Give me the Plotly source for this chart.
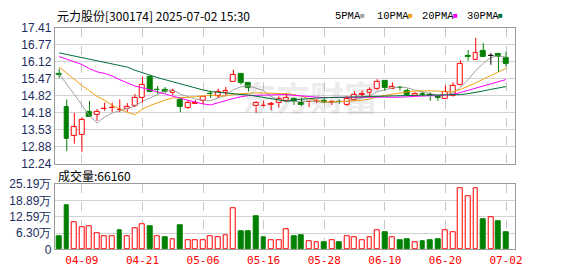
import plotly.graph_objects as go

# ---------------- data ----------------
dates = ["04-03", "04-07", "04-08", "04-09", "04-10", "04-11", "04-14", "04-15", "04-16", "04-17",
         "04-18", "04-21", "04-22", "04-23", "04-24", "04-25", "04-28", "04-29", "04-30", "05-06",
         "05-07", "05-08", "05-09", "05-12", "05-13", "05-14", "05-15", "05-16", "05-19", "05-20",
         "05-21", "05-22", "05-23", "05-26", "05-27", "05-28", "05-29", "05-30", "06-03", "06-04",
         "06-05", "06-06", "06-09", "06-10", "06-11", "06-12", "06-13", "06-16", "06-17", "06-18",
         "06-19", "06-20", "06-23", "06-24", "06-25", "06-26", "06-27", "06-30", "07-01", "07-02"]

opens = [15.67, 14.42, 13.32, 13.36, 14.20, 14.11, 14.32, 14.36, 14.28, 14.32,
         14.45, 14.74, 15.53, 15.07, 15.07, 14.93, 14.69, 14.38, 14.52, 14.64,
         14.92, 14.84, 14.95, 15.34, 15.68, 15.32, 14.43, 14.44, 14.50, 14.55,
         14.62, 14.72, 14.55, 14.58, 14.61, 14.64, 14.58, 14.60, 14.48, 14.69,
         14.88, 14.93, 15.08, 15.41, 15.10, 15.14, 15.00, 14.84, 14.90, 14.88,
         14.77, 14.72, 14.81, 15.25, 16.33, 16.21, 16.54, 16.33, 16.42, 16.26]
highs = [15.86, 14.69, 14.18, 14.01, 14.63, 14.33, 14.57, 14.57, 14.69, 14.55,
         14.90, 15.56, 15.61, 15.20, 15.16, 15.10, 14.74, 14.64, 14.66, 14.78,
         15.03, 15.10, 15.17, 15.82, 15.68, 15.33, 14.62, 14.64, 14.60, 14.81,
         14.91, 14.76, 14.76, 14.62, 14.69, 14.74, 14.64, 14.69, 14.81, 15.00,
         15.03, 15.15, 15.46, 15.42, 15.34, 15.20, 15.10, 14.96, 14.98, 14.96,
         14.86, 15.22, 15.34, 16.18, 16.57, 17.03, 16.83, 16.45, 16.43, 16.50]
lows = [15.50, 12.73, 13.01, 12.70, 14.03, 13.87, 14.26, 14.21, 14.21, 14.23,
        14.40, 14.57, 14.96, 14.91, 14.93, 14.86, 14.21, 14.33, 14.52, 14.52,
        14.74, 14.74, 14.86, 15.34, 15.25, 14.99, 14.19, 14.42, 14.28, 14.38,
        14.60, 14.48, 14.43, 14.40, 14.55, 14.55, 14.48, 14.52, 14.43, 14.64,
        14.81, 14.79, 15.03, 15.03, 15.08, 15.03, 14.81, 14.81, 14.81, 14.64,
        14.64, 14.71, 14.79, 15.22, 16.16, 16.20, 16.32, 16.01, 15.75, 15.94]
closes = [15.63, 13.18, 13.63, 13.90, 14.03, 14.23, 14.34, 14.38, 14.30, 14.40,
          14.76, 15.25, 14.99, 15.04, 14.98, 15.03, 14.40, 14.55, 14.57, 14.78,
          14.90, 14.98, 15.00, 15.64, 15.32, 15.13, 14.55, 14.46, 14.53, 14.72,
          14.76, 14.60, 14.47, 14.60, 14.63, 14.57, 14.60, 14.58, 14.72, 14.88,
          14.91, 15.05, 15.37, 15.13, 15.17, 15.12, 14.86, 14.91, 14.88, 14.81,
          14.76, 14.96, 15.20, 16.03, 16.31, 16.45, 16.32, 16.33, 16.31, 16.06]
close_before_first = 15.70

# volume in 万手
volumes = [5.02, 17.0, 10.4, 8.57, 8.94, 6.24, 5.26, 5.26, 7.47, 4.90,
           8.20, 9.91, 8.94, 4.90, 4.53, 3.79, 9.30, 3.40, 3.40, 3.67,
           5.26, 4.53, 5.51, 15.79, 6.98, 6.98, 12.97, 4.53, 3.67, 3.67,
           7.71, 5.26, 5.63, 3.30, 2.57, 2.57, 3.67, 2.57, 5.26, 4.53,
           3.67, 4.53, 7.34, 6.73, 4.53, 3.43, 3.79, 2.57, 3.06, 3.43,
           3.79, 7.34, 6.61, 23.50, 20.56, 23.50, 11.50, 12.48, 10.77, 6.616]

# moving-average values before enough in-window closes exist
ma5_head = [15.66, 15.28, 14.88, 14.47]
ma10_head = [15.92, 15.68, 15.46, 15.22, 15.02, 14.81, 14.66, 14.47, 14.33]
ma20_head = [16.32, 16.22, 16.14, 16.02, 15.86, 15.74, 15.68, 15.58, 15.44, 15.32,
             15.20, 15.13, 15.05, 14.98, 14.90, 14.80, 14.73, 14.66, 14.59]
ma30_head = [16.46, 16.40, 16.34, 16.28, 16.23, 16.18, 16.12, 16.06, 15.99, 15.92,
             15.80, 15.70, 15.61, 15.52, 15.44, 15.36, 15.28, 15.20, 15.12, 15.05,
             14.99, 14.96, 14.92, 14.90, 14.88, 14.86, 14.81, 14.76, 14.72]

price_tick_labels = ["12.24", "12.88", "13.53", "14.18", "14.82", "15.47", "16.12", "16.77", "17.41"]
vol_tick_labels = ["0", "6.30万", "12.59万", "18.89万", "25.19万"]
stock_title = "元力股份[300174] 2025-07-02 15:30"
ma_names = ["5PMA", "10PMA", "20PMA", "30PMA"]

# ---------------- styling ----------------
W, H = 578, 276
RED, GREEN, BLACK = "#ff0000", "#008000", "#000000"
MA_COLORS = ["#a0a0a0", "#f0a010", "#ff00ff", "#00703a"]
GRID = "#d2d2d2"
BORDER = "#9a9a9a"
AXIS_TXT = "#1c2c60"
F_CJK = "Noto Sans CJK SC"
F_NUM = "Liberation Sans"
F_MONO = "DejaVu Sans Mono"

n = len(dates)
xs = list(range(n))


def px_x(p):
    return p / W


def px_y(p):
    return 1 - p / H


def moving_avg(period, head):
    out = list(head)
    for i in range(period - 1, n):
        out.append(sum(closes[i - period + 1:i + 1]) / period)
    return out


mas = [moving_avg(5, ma5_head), moving_avg(10, ma10_head),
       moving_avg(20, ma20_head), moving_avg(30, ma30_head)]

fig = go.Figure()

# MA lines
for vals, col, name in zip(mas, MA_COLORS, ma_names):
    fig.add_trace(go.Scatter(x=xs, y=vals, mode="lines", line=dict(color=col, width=1),
                             name=name, xaxis="x", yaxis="y", hoverinfo="skip"))

# candles
groups = {
    "up": dict(line=RED, fill="#ffffff"),
    "down": dict(line=GREEN, fill=GREEN),
    "flat": dict(line=BLACK, fill=BLACK),
}
BODY_W = 0.64
MIN_BODY = 0.012
for key, st in groups.items():
    idx = [i for i in xs if (closes[i] > opens[i] and key == "up") or
           (closes[i] < opens[i] and key == "down") or
           (closes[i] == opens[i] and key == "flat")]
    if not idx:
        continue
    base = [min(opens[i], closes[i]) for i in idx]
    hgt = [max(abs(closes[i] - opens[i]), MIN_BODY) for i in idx]
    fig.add_trace(go.Bar(x=idx, y=hgt, base=base, width=BODY_W,
                         marker=dict(color=st["fill"], line=dict(color=st["line"], width=1)),
                         xaxis="x", yaxis="y", hoverinfo="skip", showlegend=False))
    wx, wy = [], []
    for i in idx:
        top = max(opens[i], closes[i])
        bot = min(opens[i], closes[i])
        if highs[i] > top:
            wx += [i, i, None]
            wy += [highs[i], top, None]
        if lows[i] < bot:
            wx += [i, i, None]
            wy += [bot, lows[i], None]
    fig.add_trace(go.Scatter(x=wx, y=wy, mode="lines", line=dict(color=st["line"], width=1),
                             xaxis="x", yaxis="y", hoverinfo="skip", showlegend=False))

# volume bars (colour by close vs previous close)
prev = [close_before_first] + closes[:-1]
vol_up = [i for i in xs if closes[i] >= prev[i]]
vol_dn = [i for i in xs if closes[i] < prev[i]]
fig.add_trace(go.Bar(x=vol_up, y=[volumes[i] for i in vol_up], width=BODY_W,
                     marker=dict(color="#ffffff", line=dict(color=RED, width=1)),
                     xaxis="x2", yaxis="y2", hoverinfo="skip", showlegend=False))
fig.add_trace(go.Bar(x=vol_dn, y=[volumes[i] for i in vol_dn], width=BODY_W,
                     marker=dict(color=GREEN, line=dict(color=GREEN, width=1)),
                     xaxis="x2", yaxis="y2", hoverinfo="skip", showlegend=False))

# axes
x_left, x_right = 55.5, 522.0
slot = 7.68
first_px = 60.0
x_range = [(x_left - first_px) / slot, (x_right - first_px) / slot]
label_idx = list(range(3, n, 8))

p_lo, p_hi = float(price_tick_labels[0]), float(price_tick_labels[-1])
p_ticks = [p_lo + k * (p_hi - p_lo) / (len(price_tick_labels) - 1) for k in range(len(price_tick_labels))]
v_hi = 25.19
v_ticks = [k * v_hi / (len(vol_tick_labels) - 1) for k in range(len(vol_tick_labels))]

common_x = dict(range=x_range, showgrid=True, gridcolor="#c8c8c8", griddash="dash", gridwidth=1,
                tickmode="array", tickvals=label_idx, zeroline=False,
                showline=True, mirror=True, linecolor=BORDER, linewidth=1, ticks="")

fig.update_layout(
    width=W, height=H, autosize=False,
    margin=dict(l=0, r=0, t=0, b=0),
    paper_bgcolor="#ffffff", plot_bgcolor="#ffffff",
    showlegend=False, barmode="overlay", bargap=0,
    xaxis=dict(domain=[px_x(x_left), px_x(x_right)], anchor="y", showticklabels=False, **common_x),
    xaxis2=dict(domain=[px_x(x_left), px_x(x_right)], anchor="y2", matches="x",
                ticktext=[dates[i] for i in label_idx], showticklabels=True,
                tickfont=dict(family=F_MONO, size=11, color=RED), **common_x),
    yaxis=dict(domain=[px_y(165.3), px_y(22)], range=[p_lo, p_hi], tickmode="array",
               tickvals=p_ticks, ticktext=price_tick_labels, showgrid=True, gridcolor=GRID,
               zeroline=False, showline=True, mirror=True, linecolor=BORDER, linewidth=1,
               tickfont=dict(family=F_NUM, size=12, color=AXIS_TXT), ticks="", anchor="x"),
    yaxis2=dict(domain=[px_y(255.3), px_y(186.7)], range=[0, v_hi], tickmode="array",
                tickvals=v_ticks, ticktext=vol_tick_labels, showgrid=True, gridcolor=GRID,
                zeroline=False, showline=True, mirror=True, linecolor=BORDER, linewidth=1,
                tickfont=dict(family=F_NUM, size=12, color=AXIS_TXT), ticks="", anchor="x2"),
)

ann = []
# watermark
ann.append(dict(text="<b>东方财富</b>", x=px_x(314), y=px_y(94), xref="paper", yref="paper",
                showarrow=False, font=dict(family=F_CJK, size=34, color="rgba(110,110,110,0.15)"),
                xanchor="center", yanchor="middle"))
# title
ann.append(dict(text=stock_title, x=px_x(56), y=px_y(9), xref="paper", yref="paper",
                showarrow=False, font=dict(family=F_CJK, size=12, color="#000000"),
                xanchor="left", yanchor="middle"))
# MA legend
leg_x = [338, 380, 426, 472]
sq_x = [368, 416, 462, 508]
for name, col, lx, sx in zip(ma_names, MA_COLORS, leg_x, sq_x):
    ann.append(dict(text=name, x=px_x(lx), y=px_y(9), xref="paper", yref="paper",
                    showarrow=False, font=dict(family="Liberation Mono", size=10.5, color="#000000"),
                    xanchor="left", yanchor="middle"))
    ann.append(dict(text="■", x=px_x(sx), y=px_y(9), xref="paper", yref="paper",
                    showarrow=False, font=dict(family=F_NUM, size=8, color=col),
                    xanchor="center", yanchor="middle"))
# volume label
ann.append(dict(text="成交量:" + str(int(round(volumes[-1] * 10000))), x=px_x(57), y=px_y(177),
                xref="paper", yref="paper", showarrow=False,
                font=dict(family=F_CJK, size=12, color="#000000"), xanchor="left", yanchor="middle"))
fig.update_layout(annotations=ann)

fig.write_html("out.html")
